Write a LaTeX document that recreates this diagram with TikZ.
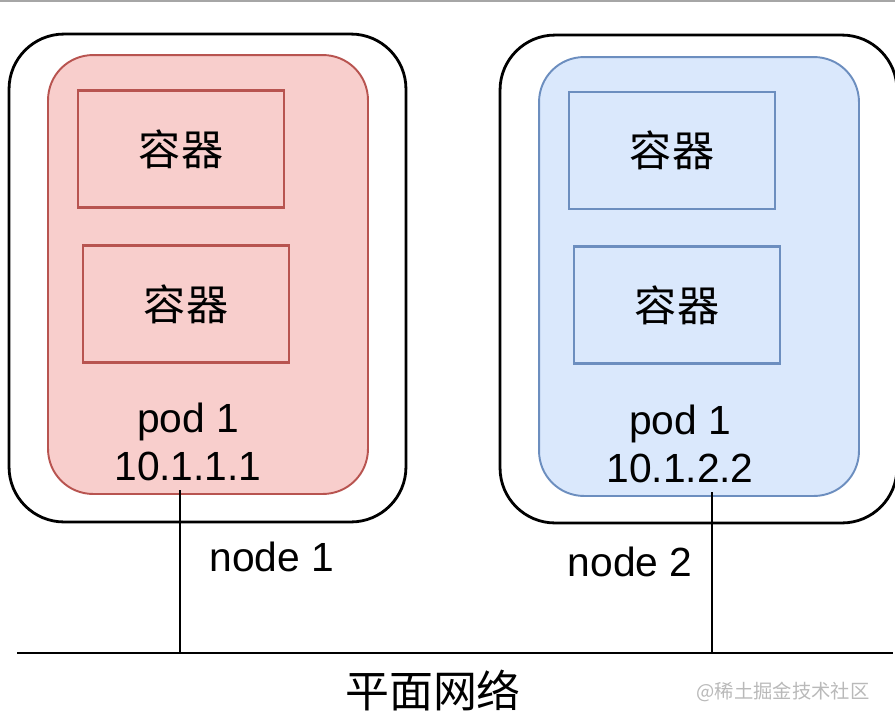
\documentclass[tikz,border=0pt]{standalone}
\usepackage{fontspec}
\setmainfont{Liberation Sans}
\newfontfamily\cjk{Noto Sans CJK SC}
\usetikzlibrary{positioning}
\definecolor{podredline}{HTML}{B85450}
\definecolor{podredfill}{HTML}{F8CECC}
\definecolor{podblueline}{HTML}{6C8EBF}
\definecolor{podbluefill}{HTML}{DAE8FC}

\begin{document}
\begin{tikzpicture}[
    x=0.02cm, y=-0.02cm,
    host box/.style={draw=black, line width=1.6pt, rounded corners=1.1cm, minimum width=7.94cm, minimum height=9.76cm, inner sep=0pt},
    pod box/.style={line width=1.1pt, rounded corners=0.9cm, minimum width=6.4cm, minimum height=8.78cm, inner sep=0pt},
    ctr box/.style={line width=1.4pt, minimum width=4.12cm, minimum height=2.34cm, font=\fontsize{24}{28}\cjk},
    pod label/.style={align=center, font=\fontsize{23.2}{27.5}\selectfont},
    host label/.style={font=\fontsize{23.2}{27}\selectfont},
    link/.style={line width=1.3pt, black},
]
\useasboundingbox (0,0) rectangle (895,721);

% top edge
\draw[gray!70, line width=1.2pt] (0,1) -- (895,1);

% hosts
\node[host box] (host1) at (207.5,278) {};
\node[host box] (host2) at (698.5,279) {};

% pods
\node[pod box, draw=podredline, fill=podredfill] (pod1) at (208,274.5) {};
\node[pod box, draw=podblueline, fill=podbluefill] (pod2) at (699,276.5) {};

% containers
\node[ctr box, draw=podredline] (c1) at (181,149) {容器};
\node[ctr box, draw=podredline] (c2) at (186,304) {容器};
\node[ctr box, draw=podblueline] (c3) at (672,150.5) {容器};
\node[ctr box, draw=podblueline] (c4) at (677,305) {容器};

% pod labels
\node[pod label] (lab1) at (188,442) {pod 1\\10.1.1.1};
\node[pod label] (lab2) at (680,444) {pod 1\\10.1.2.2};

% host labels
\node[host label] (name1) at (272,557) {node 1};
\node[host label] (name2) at (630,562) {node 2};

% flat network
\coordinate (busL) at (17,653);
\coordinate (busR) at (893,653);
\coordinate (p1) at (180,490);
\coordinate (b1) at (180,653);
\coordinate (p2) at (712,492);
\coordinate (b2) at (712,653);
\draw[link] (busL) -- (busR);
\draw[link] (p1) -- (b1);
\draw[link] (p2) -- (b2);
\node[font=\fontsize{25}{28}\cjk] (net) at (433,691) {平面网络};

% watermark
\node[font=\fontsize{11}{13}\cjk, text=gray!55] (mark) at (783,692) {@稀土掘金技术社区};

\end{tikzpicture}
\end{document}
